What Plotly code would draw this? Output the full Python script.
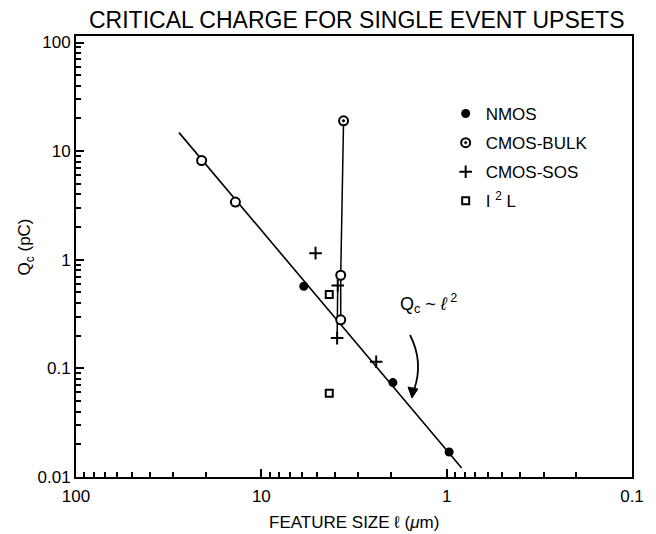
import plotly.graph_objects as go

# ---- data ----
nmos_x = [5.9, 1.95, 0.97]
nmos_y = [0.57, 0.074, 0.017]

bulk_x = [3.6, 21.0, 13.8, 3.73, 3.73]
bulk_y = [19.0, 8.2, 3.4, 0.72, 0.28]
bulk_sym = ["circle-dot", "circle", "circle", "circle", "circle"]

bulk_line_x = [3.6, 3.73, 3.73]
bulk_line_y = [19.0, 0.72, 0.28]

sos_x = [5.1, 3.87, 3.9, 2.4]
sos_y = [1.15, 0.58, 0.19, 0.115]

sos_line_x = [3.87, 3.9]
sos_line_y = [0.58, 0.19]

i2l_x = [4.3, 4.3]
i2l_y = [0.48, 0.059]

fit_x = [27.8, 0.83]
fit_y = [14.8, 0.0121]

FONT = "Liberation Sans, Arial, Helvetica, sans-serif"
INK = "#000000"

fig = go.Figure()

fig.add_trace(go.Scatter(x=fit_x, y=fit_y, mode="lines",
                         line=dict(color=INK, width=1.6), showlegend=False, hoverinfo="skip"))
fig.add_trace(go.Scatter(x=bulk_line_x, y=bulk_line_y, mode="lines",
                         line=dict(color=INK, width=1.5), showlegend=False, hoverinfo="skip"))
fig.add_trace(go.Scatter(x=sos_line_x, y=sos_line_y, mode="lines",
                         line=dict(color=INK, width=1.5), showlegend=False, hoverinfo="skip"))

fig.add_trace(go.Scatter(x=nmos_x, y=nmos_y, mode="markers", name="NMOS", legendgroup="a",
                         marker=dict(symbol="circle", size=9, color=INK)))
fig.add_trace(go.Scatter(x=bulk_x, y=bulk_y, mode="markers", name="CMOS-BULK", legendgroup="b",
                         marker=dict(symbol=bulk_sym, size=9, color="white",
                                     line=dict(color=INK, width=2))))
fig.add_trace(go.Scatter(x=sos_x, y=sos_y, mode="markers", name="CMOS-SOS", legendgroup="c",
                         marker=dict(symbol="cross-thin", size=9, color=INK,
                                     line=dict(color=INK, width=2))))
fig.add_trace(go.Scatter(x=i2l_x, y=i2l_y, mode="markers", name="I <sup>2</sup> L", legendgroup="d",
                         marker=dict(symbol="square", size=7, color="white",
                                     line=dict(color=INK, width=2))))

L, R, T, B = 76, 19, 36, 57
W, H = 656, 534
pw, ph = W - L - R, H - T - B


def px(x):
    return (x - L) / pw


def py(y):
    return (H - B - y) / ph


axis_common = dict(
    type="log", showgrid=False, zeroline=False,
    showline=True, linecolor=INK, linewidth=2, mirror=True,
    ticks="inside", ticklen=8, tickwidth=1.5, tickcolor=INK,
    dtick=1, exponentformat="none",
    tickfont=dict(family=FONT, size=17, color=INK),
    minor=dict(ticks="inside", ticklen=5, tickwidth=1.5, tickcolor=INK, showgrid=False),
)

fig.update_xaxes(range=[2, -1], ticklabelstandoff=3, **axis_common)
fig.update_yaxes(range=[-2, 2.06], **axis_common)

fig.update_layout(
    width=W, height=H,
    margin=dict(l=L, r=R, t=T, b=B),
    paper_bgcolor="white", plot_bgcolor="white",
    font=dict(family=FONT, color=INK),
    legend=dict(x=px(449), y=py(96), xanchor="left", yanchor="top",
                font=dict(family=FONT, size=17, color=INK),
                bgcolor="rgba(0,0,0,0)", itemwidth=30,
                traceorder="grouped", tracegroupgap=4),
    annotations=[
        dict(text="CRITICAL CHARGE FOR SINGLE EVENT UPSETS", x=px(360), y=py(20),
             xref="paper", yref="paper", xanchor="center", yanchor="middle",
             showarrow=False, font=dict(family=FONT, size=23, color=INK)),
        dict(text="FEATURE SIZE ℓ (<i>μ</i>m)", x=px(357), y=py(522),
             xref="paper", yref="paper", xanchor="center", yanchor="middle",
             showarrow=False, font=dict(family=FONT, size=17, color=INK)),
        dict(text="Q<sub>c</sub> (pC)", x=px(26), y=py(247), textangle=-90,
             xref="paper", yref="paper", xanchor="center", yanchor="middle",
             showarrow=False, font=dict(family=FONT, size=17, color=INK)),
        dict(text="Q<sub>c</sub> ~ <i>ℓ</i><sup> 2</sup>", x=px(432), y=py(304),
             xref="paper", yref="paper", xanchor="center", yanchor="middle",
             showarrow=False, font=dict(family=FONT, size=18, color=INK)),
    ],
    shapes=[
        dict(type="path", xref="paper", yref="paper",
             path=f"M {px(413)},{py(335)} Q {px(427)},{py(362)} {px(417)},{py(390)}",
             line=dict(color=INK, width=1.8)),
        dict(type="path", xref="paper", yref="paper",
             path=f"M {px(415)},{py(398)} L {px(411)},{py(387)} L {px(421)},{py(389)} Z",
             fillcolor=INK, line=dict(color=INK, width=1)),
    ],
)

fig.write_html("out.html")
